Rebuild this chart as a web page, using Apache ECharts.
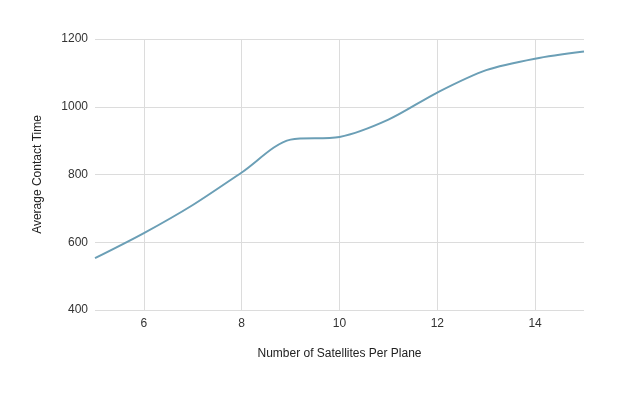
<!DOCTYPE html>
<html>
<head>
<meta charset="utf-8">
<script src="https://cdn.jsdelivr.net/npm/echarts@6/dist/echarts.min.js"></script>
<style>
    html, body { margin: 0; padding: 0; background: #fff; }
    #chart { width: 634px; height: 397px; }
</style>
</head>
<body>
<div id="chart"></div>
<script>
    // satellites per plane vs average contact time
    var satellites = [5, 6, 7, 8, 9, 10, 11, 12, 13, 14, 15];
    var contactTime = [553, 627, 710, 806, 903, 911, 962, 1042, 1108, 1142, 1163];
    var xTicks = [6, 8, 10, 12, 14];
    var yTicks = [400, 600, 800, 1000, 1200];

    var myChart = echarts.init(document.getElementById('chart'));
    var font = 'Liberation Sans, Arial, sans-serif';

    var option = {
        animation: false,
        grid: {
            left: 95,
            right: 50,
            top: 39,
            bottom: 87
        },
        xAxis: {
            type: 'value',
            min: 5,
            max: 15,
            name: 'Number of Satellites Per Plane',
            nameLocation: 'middle',
            nameGap: 38,
            nameTextStyle: { color: '#222', fontSize: 12, fontFamily: font },
            axisLine: { show: false },
            axisTick: { show: false, customValues: xTicks },
            axisLabel: { customValues: xTicks, color: '#333', fontSize: 12, fontFamily: font, margin: 8 },
            splitLine: { show: true, lineStyle: { color: '#dcdcdc', width: 1 } }
        },
        yAxis: {
            type: 'value',
            min: 400,
            max: 1200,
            interval: 200,
            name: 'Average Contact Time',
            nameLocation: 'middle',
            nameGap: 51,
            nameTextStyle: { color: '#222', fontSize: 12, fontFamily: font },
            axisLine: { show: false },
            axisTick: { show: false },
            axisLabel: {
                color: '#333', fontSize: 12, fontFamily: font, margin: 7,
                formatter: function (v) { return yTicks.indexOf(v) >= 0 ? String(v) : ''; }
            },
            splitLine: { show: true, lineStyle: { color: '#dcdcdc', width: 1 } }
        },
        series: [{
            type: 'line',
            smooth: 0.3,
            showSymbol: false,
            data: satellites.map(function (x, i) { return [x, contactTime[i]]; }),
            lineStyle: { color: '#6b9fb6', width: 2 }
        }]
    };
    myChart.setOption(option);
</script>
</body>
</html>
